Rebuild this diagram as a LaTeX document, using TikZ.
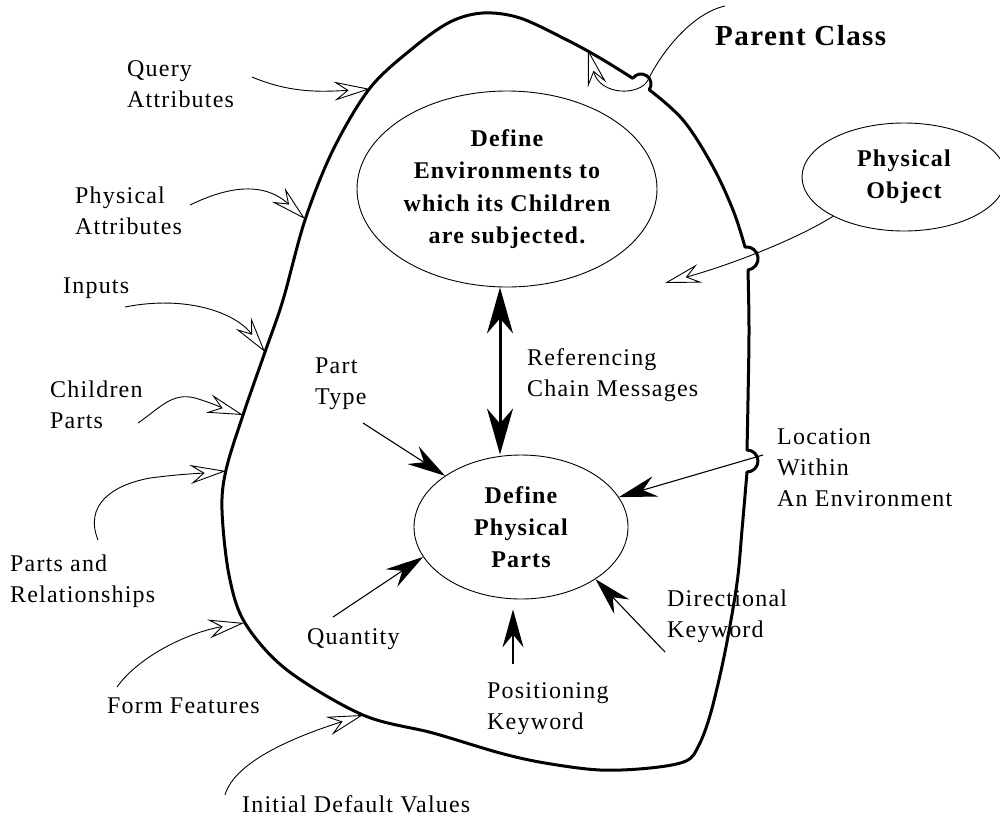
\documentclass[tikz,border=0pt]{standalone}
\usepackage{fontspec}
\setmainfont{Liberation Serif}
\newfontfamily\lblfont[LetterSpace=5]{Liberation Serif}
\usetikzlibrary{arrows.meta,shapes.geometric,calc}

\tikzset{
  lbl/.style={font=\lblfont\fontsize{24}{31}\selectfont, align=left, inner sep=0pt, anchor=north west},
  oval/.style={ellipse, draw, line width=0.9pt, inner sep=0pt, align=center,
               font=\lblfont\bfseries\fontsize{24}{32.3}\selectfont},
  boundary/.style={line width=3pt, line join=round, line cap=round},
  feed/.style={line width=0.9pt,
    -{Stealth[length=36pt, width=19pt, inset=13pt, fill=white, line width=0.9pt]}},
  push/.style={line width=1.1pt, -{Stealth[length=38pt, width=21pt, inset=13pt]}},
  biarrow/.style={line width=3pt,
    {Stealth[length=46pt, width=26pt, inset=15pt]}-{Stealth[length=46pt, width=26pt, inset=15pt]}}
}

\begin{document}
\begin{tikzpicture}[x=1pt, y=-1pt]
\useasboundingbox (0,0) rectangle (1000,817);

% --- the class boundary, with hops where connectors cross it
\draw[boundary]
  plot[smooth, tension=0.6] coordinates {(649.2,89.7) (683,120) (712,165) (733,210) (745,247)}
  arc[start angle=-97.4, end angle=82.6, radius=11.6]
  -- plot[smooth, tension=0.6] coordinates {(748,270) (749,330) (748,400) (747,450)}
  arc[start angle=-90, end angle=90, radius=11]
  -- plot[smooth, tension=0.55] coordinates {(747,472) (742,530) (737,583) (725,652) (711,712)
        (699,745) (686,761) (650,768) (600,770) (545,763) (500,753) (433,733) (363,715)
        (287,670) (245,623) (229,575) (222,510) (226,470) (243,415) (265,352) (283,300)
        (305,220) (333,150) (370,88) (413,48) (450,22) (483,13) (520,18) (567,40) (600,58)
        (632.8,78.3)}
  arc[start angle=214.6, end angle=394.6, radius=10];

% --- process ovals
\node[oval, minimum width=300pt, minimum height=196pt] (env) at (507,189)
  {Define\\Environments to\\which its Children\\are subjected.};
\node[oval, minimum width=214pt, minimum height=144pt] (pp) at (521,527)
  {Define\\Physical\\Parts};
\node[oval, minimum width=204pt, minimum height=108pt] (po) at (904,177)
  {Physical\\Object};

% --- labels
\node[lbl, font=\lblfont\bfseries\fontsize{29}{34}\selectfont] (parent) at (715,25) {Parent Class};
\node[lbl] (query) at (127,60) {Query\\Attributes};
\node[lbl] (physattr) at (75,187) {Physical\\Attributes};
\node[lbl] (inputs) at (63,278) {Inputs};
\node[lbl] (children) at (50,381) {Children\\Parts};
\node[lbl] (partsrel) at (10,555) {Parts and\\Relationships};
\node[lbl] (form) at (107,698) {Form Features};
\node[lbl] (initial) at (242,795) {Initial Default Values};
\node[lbl] (parttype) at (315,358) {Part\\Type};
\node[lbl] (refchain) at (527,348) {Referencing\\Chain Messages};
\node[lbl] (location) at (777,428) {Location\\Within\\An Environment};
\node[lbl] (quantity) at (307,628) {Quantity};
\node[lbl] (positioning) at (487,682) {Positioning\\Keyword};
\node[lbl] (directional) at (667,590) {Directional\\Keyword};

% --- connector ends
\coordinate (sQuery) at (252,77);   \coordinate (tQuery) at (370,89);
\coordinate (sPhys) at (190,205);   \coordinate (tPhys) at (305,219);
\coordinate (sInputs) at (125,307); \coordinate (tInputs) at (265,352);
\coordinate (sChild) at (138,423);  \coordinate (tChild) at (243,415);
\coordinate (sRel) at (98,540);     \coordinate (tRel) at (226,471);
\coordinate (sForm) at (117,687);   \coordinate (tForm) at (244,623);
\coordinate (sInit) at (225,795);   \coordinate (tInit) at (363,715);
\coordinate (sParent) at (725,6);   \coordinate (tParent) at (588,50);
\coordinate (tPO) at (665,283);
\coordinate (sType) at (363,423);
\coordinate (sLoc) at (763,455);
\coordinate (sQty) at (333,617);
\coordinate (sDir) at (665,652);
\coordinate (sPos) at (513,664);
\coordinate (dcol) at (500,0);

% --- inputs entering the class boundary
\draw[feed] (sQuery) .. controls (290,93) and (320,92) .. (tQuery);
\draw[feed] (sPhys) .. controls (225,188) and (262,180) .. (tPhys);
\draw[feed] (sInputs) .. controls (185,295) and (235,312) .. (tInputs);
\draw[feed] (sChild) .. controls (160,408) and (172,392) .. (195,398)
                     .. controls (212,403) and (228,410) .. (tChild);
\draw[feed] (sRel) .. controls (84,505) and (112,485) .. (150,478)
                   .. controls (180,474) and (205,473) .. (tRel);
\draw[feed] (sForm) .. controls (140,655) and (190,632) .. (tForm);
\draw[feed] (sInit) .. controls (235,760) and (300,735) .. (tInit);
\draw[feed] (sParent) .. controls (690,14) and (660,55) .. (648,80)
                      .. controls (640,96) and (600,96) .. (tParent);
\draw[feed] (po.209) .. controls (795,240) and (730,265) .. (tPO);

% --- messages into the physical parts process
\draw[push] (sType) -- (pp.146);
\draw[push] (sLoc) -- (pp.17);
\draw[push] (sQty) -- (pp.197);
\draw[push] (sDir) -- (pp.325);
\draw[push] (sPos) -- ($(pp.south -| sPos)+(0,10)$);

% --- referencing chain between the two processes
\draw[biarrow] (env.south -| dcol) -- (pp.north -| dcol);
\end{tikzpicture}
\end{document}
